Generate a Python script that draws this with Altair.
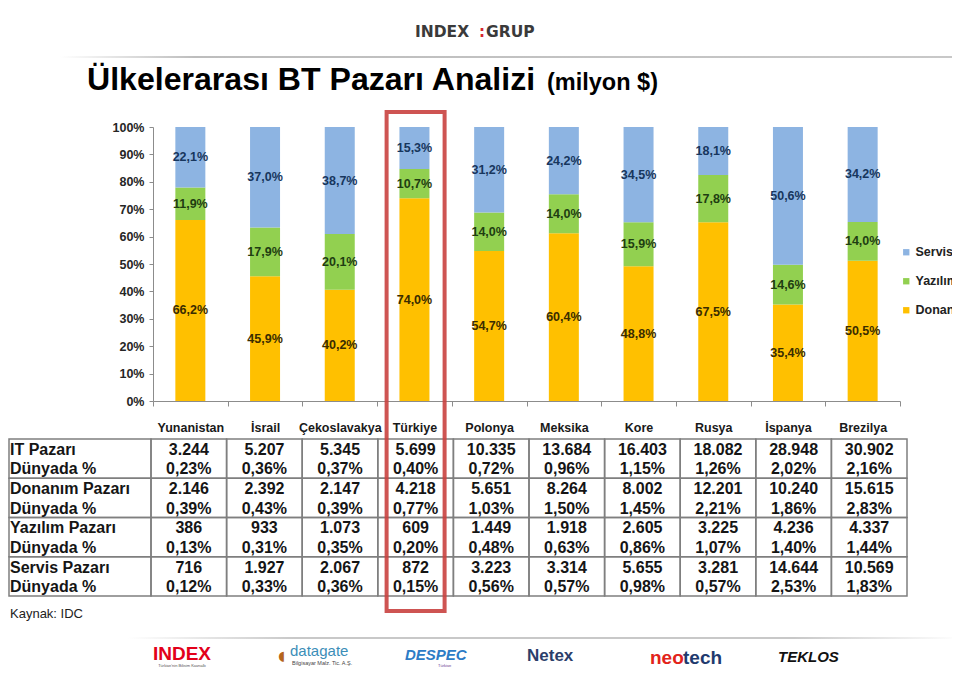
import altair as alt
import pandas as pd

# ---------------- data ----------------
countries = ["Yunanistan", "İsrail", "Çekoslavakya", "Türkiye", "Polonya",
             "Meksika", "Kore", "Rusya", "İspanya", "Brezilya"]
segments = ["Servis", "Yazılım", "Donanım"]
donanim_share = [66.2, 45.9, 40.2, 74.0, 54.7, 60.4, 48.8, 67.5, 35.4, 50.5]
yazilim_share = [11.9, 17.9, 20.1, 10.7, 14.0, 14.0, 15.9, 17.8, 14.6, 14.0]
servis_share = [22.1, 37.0, 38.7, 15.3, 31.2, 24.2, 34.5, 18.1, 50.6, 34.2]

row_labels = ["IT Pazarı", "Dünyada %", "Donanım Pazarı", "Dünyada %",
              "Yazılım Pazarı", "Dünyada %", "Servis Pazarı", "Dünyada %"]
it_pazari = [3244, 5207, 5345, 5699, 10335, 13684, 16403, 18082, 28948, 30902]
it_dunya = [0.23, 0.36, 0.37, 0.40, 0.72, 0.96, 1.15, 1.26, 2.02, 2.16]
donanim_pazari = [2146, 2392, 2147, 4218, 5651, 8264, 8002, 12201, 10240, 15615]
donanim_dunya = [0.39, 0.43, 0.39, 0.77, 1.03, 1.50, 1.45, 2.21, 1.86, 2.83]
yazilim_pazari = [386, 933, 1073, 609, 1449, 1918, 2605, 3225, 4236, 4337]
yazilim_dunya = [0.13, 0.31, 0.35, 0.20, 0.48, 0.63, 0.86, 1.07, 1.40, 1.44]
servis_pazari = [716, 1927, 2067, 872, 3223, 3314, 5655, 3281, 14644, 10569]
servis_dunya = [0.12, 0.33, 0.36, 0.15, 0.56, 0.57, 0.98, 0.57, 2.53, 1.83]
y_ticks = [0, 0.1, 0.2, 0.3, 0.4, 0.5, 0.6, 0.7, 0.8, 0.9, 1.0]
highlight = ["Türkiye"]

# ---------------- helpers ----------------
def tr_num(n):
    return f"{n:,}".replace(",", ".")

def tr_pct(v, d):
    return f"{v:.{d}f}".replace(".", ",") + "%"

NARROW = "Liberation Sans Narrow, Arial Narrow, Liberation Sans, sans-serif"
ARIAL = "Liberation Sans, Arial, sans-serif"
seg_colors = ["#8DB4E2", "#92D050", "#FFC000"]
label_colors = {"Servis": "#17365D", "Yazılım": "#1F3D12", "Donanım": "#3A2C00"}
seg_order = {"Donanım": 0, "Yazılım": 1, "Servis": 2}

bar_rows = []
for i, c in enumerate(countries):
    for seg, arr in (("Donanım", donanim_share), ("Yazılım", yazilim_share), ("Servis", servis_share)):
        bar_rows.append({"country": c, "segment": seg, "value": arr[i],
                         "order": seg_order[seg], "label": tr_pct(arr[i], 1),
                         "lc": label_colors[seg]})
bar_df = pd.DataFrame(bar_rows)

tbl_rows = []
series = [(it_pazari, it_dunya), (donanim_pazari, donanim_dunya),
          (yazilim_pazari, yazilim_dunya), (servis_pazari, servis_dunya)]
for i, c in enumerate(countries):
    for g, (vals, pcts) in enumerate(series):
        tbl_rows.append({"tcol": c, "trow": str(2 * g), "txt": tr_num(vals[i])})
        tbl_rows.append({"tcol": c, "trow": str(2 * g + 1), "txt": tr_pct(pcts[i], 2)})
tbl_df = pd.DataFrame(tbl_rows)
cell_df = pd.DataFrame([{"ccol": c, "cgrp": str(g)} for c in countries for g in range(4)])
lcell_df = pd.DataFrame([{"lcol": "lab", "lgrp": str(g)} for g in range(4)])
ltext_df = pd.DataFrame([{"lrow": str(r), "txt": t} for r, t in enumerate(row_labels)])

# ---------------- scales ----------------
x_chart = alt.Scale(domain=countries, range=[145, 892], paddingInner=0, paddingOuter=0)
y_chart = alt.Scale(domain=[0, 1], range=[393, 119])
x_table = alt.Scale(domain=countries, range=[143, 899], paddingInner=0, paddingOuter=0)
grp_dom = [str(g) for g in range(4)]
row_dom = [str(r) for r in range(8)]
y_grp = alt.Scale(domain=grp_dom, range=[431, 588], paddingInner=0, paddingOuter=0)
y_row = alt.Scale(domain=row_dom, range=[432, 589], paddingInner=0, paddingOuter=0)
x_lab = alt.Scale(domain=["lab"], range=[1, 143], paddingInner=0, paddingOuter=0)

# ---------------- stacked bars ----------------
base = alt.Chart(bar_df).transform_stack(
    stack="value", groupby=["country"], sort=[alt.SortField("order")],
    as_=["v0", "v1"], offset="normalize"
).transform_calculate(mid="(datum.v0 + datum.v1) / 2")

x_axis = alt.Axis(orient="bottom", offset=-266, tickBand="extent", labelAngle=0,
                  domainColor="#8C8C8C", tickColor="#8C8C8C", tickSize=5,
                  labelFont=NARROW, labelFontSize=12.5, labelFontWeight="bold",
                  labelColor="#1A1A1A", labelPadding=15, grid=False, title=None)
y_axis = alt.Axis(orient="left", offset=-145, values=y_ticks, format=".0%",
                  domainColor="#8C8C8C", tickColor="#8C8C8C", tickSize=4,
                  labelFont=NARROW, labelFontSize=12.5, labelFontWeight="bold",
                  labelColor="#262626", labelPadding=5, grid=False, title=None)

bars = base.mark_bar(width=30).encode(
    x=alt.X("country:N", sort=countries, scale=x_chart, title=None, axis=x_axis),
    y=alt.Y("v0:Q", scale=y_chart, title=None, axis=y_axis),
    y2="v1:Q",
    color=alt.Color("segment:N", scale=alt.Scale(domain=segments, range=seg_colors),
                    legend=alt.Legend(orient="none", legendX=892, legendY=238, title=None,
                                      padding=0, symbolType="square", symbolSize=40,
                                      symbolStrokeWidth=0, labelFont=NARROW,
                                      labelFontSize=12.5, labelFontWeight="bold",
                                      labelColor="#222222", rowPadding=16, labelOffset=3)),
)

bar_labels = base.mark_text(font=NARROW, fontSize=12.5, fontWeight="bold", baseline="middle").encode(
    x=alt.X("country:N", sort=countries, scale=x_chart, title=None, axis=x_axis),
    y=alt.Y("mid:Q", scale=y_chart, title=None, axis=y_axis),
    text="label:N",
    color=alt.Color("lc:N", scale=None),
)

chart_part = alt.layer(bars, bar_labels).resolve_scale(color="independent")

# ---------------- table ----------------
cells = alt.Chart(cell_df).mark_rect(fill="white", fillOpacity=0, stroke="#7F7F7F", strokeWidth=1.5).encode(
    x=alt.X("ccol:N", scale=x_table, axis=None),
    y=alt.Y("cgrp:N", scale=y_grp, axis=None),
)
lcells = alt.Chart(lcell_df).mark_rect(fill="white", fillOpacity=0, stroke="#7F7F7F", strokeWidth=1.5).encode(
    x=alt.X("lcol:N", scale=x_lab, axis=None),
    y=alt.Y("lgrp:N", scale=y_grp, axis=None),
)
tbl_text = alt.Chart(tbl_df).mark_text(font=ARIAL, fontSize=16, fontWeight="bold",
                                       color="#151515", baseline="middle").encode(
    x=alt.X("tcol:N", scale=x_table, axis=None),
    y=alt.Y("trow:N", scale=y_row, axis=None),
    text="txt:N",
)
lab_text = alt.Chart(ltext_df).mark_text(font=ARIAL, fontSize=16, fontWeight="bold",
                                         color="#151515", baseline="middle", align="left").encode(
    x=alt.value(2),
    y=alt.Y("lrow:N", scale=y_row, axis=None),
    text="txt:N",
)

# red highlight frame around Türkiye
hl = alt.Chart(pd.DataFrame({"hc": highlight})).mark_bar(
    width=58, fill="white", fillOpacity=0, stroke="#C9413F", strokeWidth=4, strokeOpacity=0.9
).encode(
    x=alt.X("hc:N", scale=x_table, axis=None),
    y=alt.value(104), y2=alt.value(603),
)

# ---------------- titles, header, footer ----------------
def txt(text, x, y, size, color="#000000", font=ARIAL, weight="bold", align="left",
        style="normal", baseline="alphabetic"):
    return alt.Chart(pd.DataFrame({"t": [text]})).mark_text(
        font=font, fontSize=size, fontWeight=weight, color=color, align=align,
        fontStyle=style, baseline=baseline
    ).encode(x=alt.value(x), y=alt.value(y), text="t:N")

def hline(y, x1, x2, stops):
    grad = alt.LinearGradient(gradient="linear", x1=0, x2=1, y1=0, y2=0,
                              stops=[alt.GradientStop(offset=o, color=c) for o, c in stops])
    return alt.Chart(pd.DataFrame({"t": [0]})).mark_rect(color=grad).encode(
        x=alt.value(x1), x2=alt.value(x2), y=alt.value(y), y2=alt.value(y + 2))

header_line = hline(48, 52, 952, [(0, "#FFFFFF"), (0.15, "#BDBDBD"), (1, "#C8C8C8")])
footer_line = hline(629, 120, 952, [(0, "#FFFFFF"), (0.2, "#C8C8C8"), (0.8, "#C8C8C8"), (1, "#FFFFFF")])

title1 = txt("Ülkelerarası BT Pazarı Analizi", 79, 82, 32.1)
title2 = txt("(milyon $)", 539, 82, 23.5)
logo1 = txt("INDEX", 407, 29, 15.5, color="#3A3A3A", font="DejaVu Sans, sans-serif")
logo_dots = txt(":", 471, 29, 15, color="#D7262E", font="DejaVu Sans, sans-serif")
logo2 = txt("GRUP", 478, 29, 15.5, color="#3A3A3A", font="DejaVu Sans, sans-serif")
kaynak = txt("Kaynak: IDC", 2, 610, 13, color="#222222", weight="normal")

f_index = txt("INDEX", 174, 651.5, 19, color="#E2001A", font=NARROW, align="center")
f_index_s = txt("Türkiye'nin Bilişim Kaynağı", 174, 659, 4, color="#555555", font=ARIAL, weight="normal", align="center")
f_dg_icon = txt("◖", 270, 652, 13, color="#B5651D", font="DejaVu Sans, sans-serif", weight="normal")
f_dg = txt("datagate", 282, 648, 15, color="#3B8EB8", font=NARROW, weight="normal")
f_dg_s = txt("Bilgisayar Malz. Tic. A.Ş.", 284, 657, 5.5, color="#444444", font=NARROW, weight="normal")
f_despec = txt("DESPEC", 397, 652, 15, color="#2D7CC6", font=NARROW, style="italic")
f_despec_s = txt("Türkiye", 430, 659, 4, color="#6A3D8F", font=ARIAL, weight="normal")
f_netex = txt("Netex", 519, 653, 17, color="#2B3E6A", font=ARIAL)
f_neo = txt("neo", 642, 656, 19, color="#E2231A", font=ARIAL)
f_tech = txt("tech", 675, 656, 19, color="#1F3A6E", font=ARIAL)
f_teklos = txt("TEKLOS", 770, 654, 15, color="#111111", font=NARROW, style="italic")

chart = alt.layer(
    header_line, footer_line,
    chart_part,
    cells, lcells, tbl_text, lab_text, hl,
    title1, title2, logo1, logo_dots, logo2, kaynak,
    f_index, f_index_s, f_dg_icon, f_dg, f_dg_s, f_despec, f_despec_s,
    f_netex, f_neo, f_tech, f_teklos,
).resolve_scale(x="independent", y="independent", color="independent").properties(
    width=944, height=659, padding=0,
    autosize=alt.AutoSizeParams(type="none"),
    background="white",
).configure_view(strokeWidth=0)

chart.save("out.html", embed_options={"renderer": "svg", "actions": False})
